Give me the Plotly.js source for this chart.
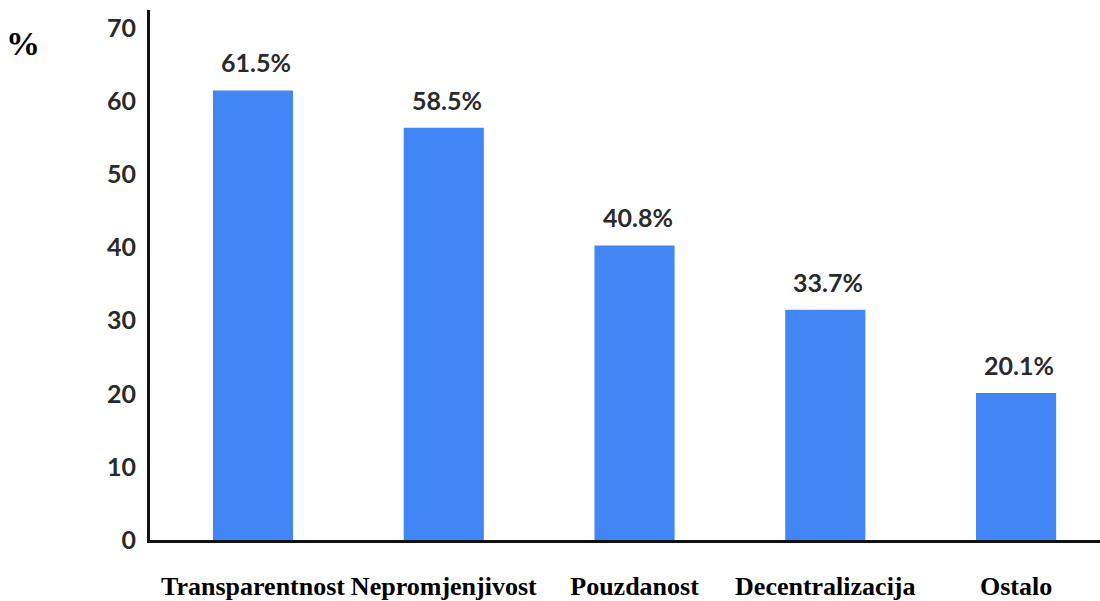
<!DOCTYPE html>
<html>
<head>
<meta charset="utf-8">
<script src="https://cdn.plot.ly/plotly-3.0.1.min.js"></script>
<style>html,body{margin:0;padding:0;background:#fff;}#chart{width:1100px;height:601px;}</style>
</head>
<body>
<div id="chart"></div>
<script>
const categories = ["Transparentnost", "Nepromjenjivost", "Pouzdanost", "Decentralizacija", "Ostalo"];
const values = [61.5, 56.4, 40.3, 31.5, 20.1];
const valueLabels = ["61.5%", "58.5%", "40.8%", "33.7%", "20.1%"];
const yTicks = [0, 10, 20, 30, 40, 50, 60, 70];

const trace = {
  type: "bar",
  x: categories,
  y: values,
  marker: {color: "#4285f4"},
  width: 0.42,
  hoverinfo: "skip"
};

const annotations = categories.map((c, i) => ({
  x: c, y: values[i], xref: "x", yref: "y",
  text: valueLabels[i], showarrow: false,
  yanchor: "bottom", yshift: 11, xshift: 3,
  font: {family: "Lato", size: 25, color: "#2a2a2a", weight: 700}
}));
annotations.push({
  x: (23 - 150) / 950, y: (540 - 44) / 530, xref: "paper", yref: "paper",
  xanchor: "center", yanchor: "middle",
  text: "%", showarrow: false,
  font: {family: "Liberation Serif, Times New Roman, serif", size: 34, color: "#000", weight: 700}
});

const layout = {
  width: 1100, height: 601,
  margin: {l: 150, r: 0, t: 10, b: 61},
  paper_bgcolor: "#fff", plot_bgcolor: "#fff",
  showlegend: false,
  xaxis: {
    type: "category",
    range: [-0.54, 4.44],
    showline: true, linecolor: "#111", linewidth: 3,
    showgrid: false, zeroline: false, ticks: "",
    tickangle: 0,
    ticklabelstandoff: 21,
    tickfont: {family: "Liberation Serif, Times New Roman, serif", size: 26, color: "#000", weight: 700},
    fixedrange: true
  },
  yaxis: {
    range: [0, 72.5],
    tickvals: yTicks,
    ticktext: yTicks.map(String),
    showline: true, linecolor: "#111", linewidth: 3,
    showgrid: false, zeroline: false, ticks: "",
    ticklabelstandoff: 6,
    tickfont: {family: "Lato", size: 25, color: "#2a2a2a", weight: 700},
    fixedrange: true
  },
  annotations: annotations
};

Plotly.newPlot("chart", [trace], layout, {displayModeBar: false, staticPlot: true});
</script>
</body>
</html>
